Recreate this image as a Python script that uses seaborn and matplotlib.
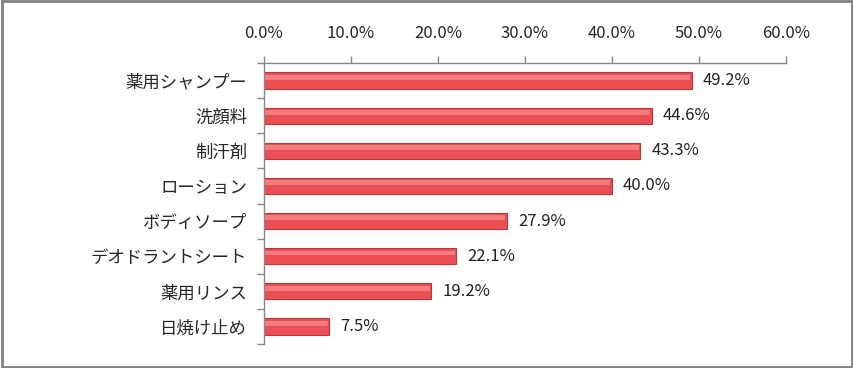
import matplotlib
matplotlib.use("Agg")
import matplotlib.pyplot as plt
import seaborn as sns
import pandas as pd

# data
items = ["薬用シャンプー", "洗顔料", "制汗剤", "ローション", "ボディソープ",
         "デオドラントシート", "薬用リンス", "日焼け止め"]
rates = [49.2, 44.6, 43.3, 40.0, 27.9, 22.1, 19.2, 7.5]
x_ticks = [0, 10, 20, 30, 40, 50, 60]

df = pd.DataFrame({"item": items, "rate": rates})

sns.set_style("white")
plt.rcParams["font.family"] = ["Noto Sans CJK JP", "DejaVu Sans"]

fig = plt.figure(figsize=(8.54, 3.68), dpi=100)
ax = fig.add_axes([0.309, 0.065, 0.611, 0.764])

sns.barplot(data=df, x="rate", y="item", orient="h", color="#EB4F53",
            width=0.46, edgecolor="#B8353A", linewidth=0.8, saturation=1, ax=ax)

# soft highlight on each bar
for p in ax.patches:
    x0, y0 = p.get_x(), p.get_y()
    w, h = p.get_width(), p.get_height()
    ax.fill_between([x0 + 0.15, x0 + w - 0.15], y0 + h * 0.15, y0 + h * 0.45,
                    color="#F7898C", linewidth=0, zorder=3, alpha=0.8)

for i, v in enumerate(rates):
    ax.text(v + 1.3, i, f"{v:.1f}%", va="center", ha="left", fontsize=12,
            color="#222222")

ax.set_xlim(0, 60)
ax.set_ylim(len(items) - 0.5, -0.5)
ax.xaxis.tick_top()
ax.set_xticks(x_ticks)
ax.set_xticklabels([f"{t:.1f}%" for t in x_ticks], fontsize=12)
ax.set_yticks(range(len(items)))
ax.set_yticklabels(items, fontsize=12.5)
ax.set_xlabel("")
ax.set_ylabel("")

# ticks between categories on y axis
ax.set_yticks([i + 0.5 for i in range(-1, len(items))], minor=True)
ax.tick_params(axis="y", which="major", left=False, length=0, pad=12)
ax.tick_params(axis="y", which="minor", left=True, length=5, color="#888888", width=1)
ax.tick_params(axis="x", top=True, length=5, color="#888888", width=1, pad=10)

for s in ["right", "bottom"]:
    ax.spines[s].set_visible(False)
for s in ["top", "left"]:
    ax.spines[s].set_color("#888888")
    ax.spines[s].set_linewidth(1)

# outer border
fig.patches.append(plt.Rectangle((0.002, 0.004), 0.996, 0.992, transform=fig.transFigure,
                                 fill=False, edgecolor="#808080", linewidth=2))

fig.savefig("out.png", dpi=100)
